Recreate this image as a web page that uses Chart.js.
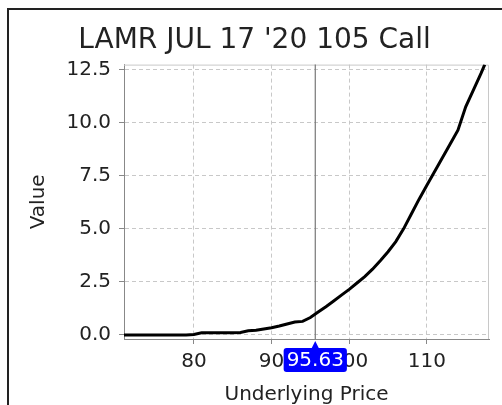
<!DOCTYPE html>
<html><head><meta charset="utf-8">
<script src="https://cdn.jsdelivr.net/npm/chart.js@4"></script>
<style>html,body{margin:0;padding:0;background:#fff}#wrap{width:502px;height:405px;position:relative}</style>
</head><body><div id="wrap"><canvas id="c" width="502" height="405"></canvas></div>
<script>
const chartTitle = "LAMR JUL 17 '20 105 Call";
const xAxisTitle = "Underlying Price";
const yAxisTitle = "Value";
const prices = [71,72,73,74,75,76,77,78,79,80,81,82,83,84,85,86,87,88,89,90,91,92,93,94,95,96,97,98,99,100,101,102,103,104,105,106,107,108,109,110,111,112,113,114,115,116,117,117.45];
const values = [0,0,0,0,0,0,0,0,0,0.02,0.10,0.11,0.11,0.11,0.11,0.12,0.20,0.22,0.28,0.34,0.42,0.52,0.61,0.64,0.82,1.08,1.33,1.60,1.88,2.15,2.45,2.75,3.10,3.50,3.92,4.40,5.00,5.70,6.40,7.05,7.70,8.35,9.00,9.65,10.75,11.55,12.35,12.74];
const xTicks = [80,90,100,110];
const yTicks = [0,2.5,5,7.5,10,12.5];
const currentPrice = 95.63;

const FONT = "'DejaVu Sans', Verdana, sans-serif";

const framePlugin = {
  id: 'frame',
  beforeDraw(chart) {
    const ctx = chart.ctx;
    ctx.save();
    ctx.fillStyle = '#fff';
    ctx.fillRect(0, 0, chart.width, chart.height);
    ctx.strokeStyle = '#222';
    ctx.lineWidth = 2;
    ctx.beginPath();
    ctx.moveTo(8, chart.height);
    ctx.lineTo(8, 9);
    ctx.lineTo(chart.width, 9);
    ctx.stroke();
    ctx.restore();
  },
  beforeDatasetsDraw(chart) {
    const ctx = chart.ctx, a = chart.chartArea;
    ctx.save();
    ctx.strokeStyle = '#c8c8c8';
    ctx.lineWidth = 1;
    ctx.beginPath();
    ctx.moveTo(a.left, a.top + 0.5);
    ctx.lineTo(a.right - 0.5, a.top + 0.5);
    ctx.lineTo(a.right - 0.5, a.bottom);
    ctx.stroke();
    const x = chart.scales.x.getPixelForValue(currentPrice);
    ctx.strokeStyle = '#777';
    ctx.lineWidth = 1.2;
    ctx.beginPath();
    ctx.moveTo(x, a.top);
    ctx.lineTo(x, a.bottom);
    ctx.stroke();
    ctx.restore();
  },
  afterDraw(chart) {
    const ctx = chart.ctx, a = chart.chartArea;
    const x = chart.scales.x.getPixelForValue(currentPrice);
    const label = currentPrice.toFixed(2);
    ctx.save();
    ctx.font = '20px ' + FONT;
    const w = ctx.measureText(label).width + 6;
    const top = a.bottom + 9, h = 24;
    const left = x - w / 2;
    ctx.fillStyle = '#0000ff';
    ctx.beginPath();
    ctx.roundRect(left, top, w, h, 3);
    ctx.fill();
    ctx.beginPath();
    ctx.moveTo(x - 4, top + 1);
    ctx.lineTo(x, a.bottom + 2);
    ctx.lineTo(x + 4, top + 1);
    ctx.closePath();
    ctx.fill();
    ctx.fillStyle = '#fff';
    ctx.textAlign = 'center';
    ctx.textBaseline = 'middle';
    ctx.fillText(label, x, top + h / 2 + 1);
    ctx.restore();
  }
};

new Chart(document.getElementById('c'), {
  type: 'scatter',
  data: {
    datasets: [{
      data: prices.map((p, i) => ({x: p, y: values[i]})),
      showLine: true,
      borderColor: '#000',
      borderWidth: 3,
      pointRadius: 0,
      tension: 0,
      fill: false
    }]
  },
  options: {
    responsive: false,
    animation: false,
    devicePixelRatio: 1,
    layout: {padding: {left: 20, right: 13, top: 0, bottom: 0}},
    plugins: {
      legend: {display: false},
      tooltip: {enabled: false},
      title: {
        display: true,
        text: chartTitle,
        color: '#222',
        font: {family: FONT, size: 28, weight: 'normal', lineHeight: 1.2},
        padding: {top: 24, bottom: 7}
      }
    },
    scales: {
      x: {
        type: 'linear',
        position: 'bottom',
        min: 71, max: 118,
        afterFit: s => { s.height = 66; },
        afterBuildTicks: s => { s.ticks = xTicks.map(v => ({value: v})); },
        grid: {color: '#c8c8c8', tickColor: '#888', tickLength: 5, lineWidth: 1},
        border: {display: true, color: '#888', width: 1, dash: [4, 3]},
        ticks: {color: '#222', padding: 6, font: {family: FONT, size: 20}, callback: v => String(v)},
        title: {display: true, text: xAxisTitle, color: '#222', font: {family: FONT, size: 20, lineHeight: 1}, padding: {top: 0, bottom: 0}}
      },
      y: {
        type: 'linear',
        position: 'left',
        min: -0.19, max: 12.74,
        afterFit: s => { s.width = 104; },
        afterBuildTicks: s => { s.ticks = yTicks.map(v => ({value: v})); },
        grid: {color: '#c8c8c8', tickColor: '#888', tickLength: 5, lineWidth: 1},
        border: {display: true, color: '#888', width: 1, dash: [4, 3]},
        ticks: {color: '#222', padding: 8, font: {family: FONT, size: 20}, callback: v => Number(v).toFixed(1)},
        title: {display: true, text: yAxisTitle, color: '#222', font: {family: FONT, size: 20, lineHeight: 1}, padding: {top: 9, bottom: 0}}
      }
    }
  },
  plugins: [framePlugin]
});
</script>
</body></html>
